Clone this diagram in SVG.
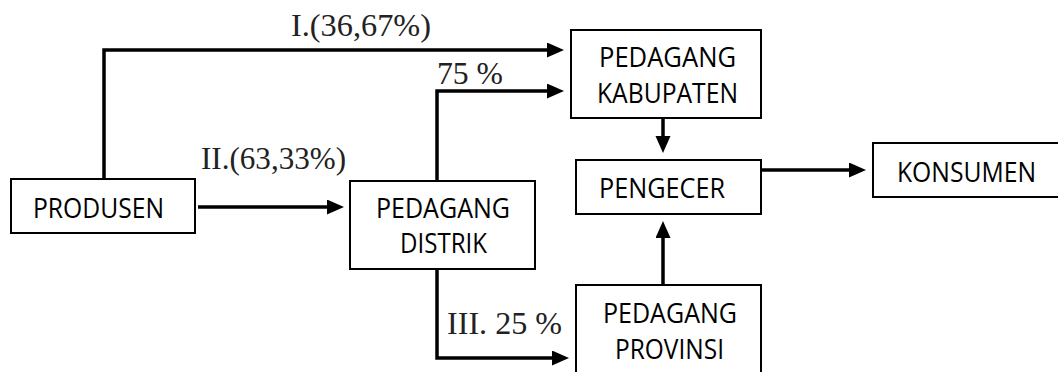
<svg xmlns="http://www.w3.org/2000/svg" width="1058" height="372" viewBox="0 0 1058 372">
<style>
.box{fill:#fff;stroke:#000;stroke-width:2}
.lbl{font-family:"Open Sans","Noto Sans",sans-serif;font-size:27px;fill:#000}
.pct{font-family:"Liberation Serif","Times New Roman",serif;fill:#222}
.con{fill:none;stroke:#000;stroke-width:3.5;stroke-linejoin:miter}
</style>
<defs>
<marker id="ah" markerUnits="userSpaceOnUse" markerWidth="18" markerHeight="16" refX="12" refY="7.5" orient="auto">
<path d="M0,0 L17,7.5 L0,15 z" fill="#000"/>
</marker>
</defs>
<rect width="1058" height="372" fill="#fff"/>
<g id="connectors">
<path class="con" d="M104,179 V50 H559" marker-end="url(#ah)"/>
<path class="con" d="M198,207 H339" marker-end="url(#ah)"/>
<path class="con" d="M437,181 V91 H559" marker-end="url(#ah)"/>
<path class="con" d="M437,269 V358 H564" marker-end="url(#ah)"/>
<path class="con" d="M663,118 V148" marker-end="url(#ah)"/>
<path class="con" d="M663,285 V226" marker-end="url(#ah)"/>
<path class="con" d="M762,170 H861" marker-end="url(#ah)"/>
</g>
<g id="labels">
<text class="pct" x="291" y="36" font-size="31" textLength="140" lengthAdjust="spacingAndGlyphs">I.(36,67%)</text>
<text class="pct" x="437" y="84" font-size="31" textLength="66" lengthAdjust="spacingAndGlyphs">75 %</text>
<text class="pct" x="201" y="169" font-size="31" textLength="145" lengthAdjust="spacingAndGlyphs">II.(63,33%)</text>
<text class="pct" x="447" y="334" font-size="32" textLength="115" lengthAdjust="spacingAndGlyphs">III. 25 %</text>
</g>
<g id="produsen">
<rect class="box" x="11" y="179" width="184" height="54"/>
<text class="lbl" x="33" y="218" textLength="131" lengthAdjust="spacingAndGlyphs">PRODUSEN</text>
</g>
<g id="distrik">
<rect class="box" x="350" y="181" width="185" height="88"/>
<text class="lbl" x="376" y="218" textLength="134" lengthAdjust="spacingAndGlyphs">PEDAGANG</text>
<text class="lbl" x="400" y="253" textLength="87" lengthAdjust="spacingAndGlyphs">DISTRIK</text>
</g>
<g id="kabupaten">
<rect class="box" x="571" y="30" width="190" height="88"/>
<text class="lbl" x="599" y="67" textLength="137" lengthAdjust="spacingAndGlyphs">PEDAGANG</text>
<text class="lbl" x="597" y="103" textLength="141" lengthAdjust="spacingAndGlyphs">KABUPATEN</text>
</g>
<g id="pengecer">
<rect class="box" x="576" y="160" width="185" height="54"/>
<text class="lbl" x="599" y="198" textLength="126" lengthAdjust="spacingAndGlyphs">PENGECER</text>
</g>
<g id="provinsi">
<rect class="box" x="576" y="285" width="185" height="90"/>
<text class="lbl" x="603" y="323" textLength="134" lengthAdjust="spacingAndGlyphs">PEDAGANG</text>
<text class="lbl" x="615" y="359" textLength="109" lengthAdjust="spacingAndGlyphs">PROVINSI</text>
</g>
<g id="konsumen">
<rect class="box" x="873" y="143" width="190" height="54"/>
<text class="lbl" x="897" y="182" textLength="139" lengthAdjust="spacingAndGlyphs">KONSUMEN</text>
</g>
</svg>
